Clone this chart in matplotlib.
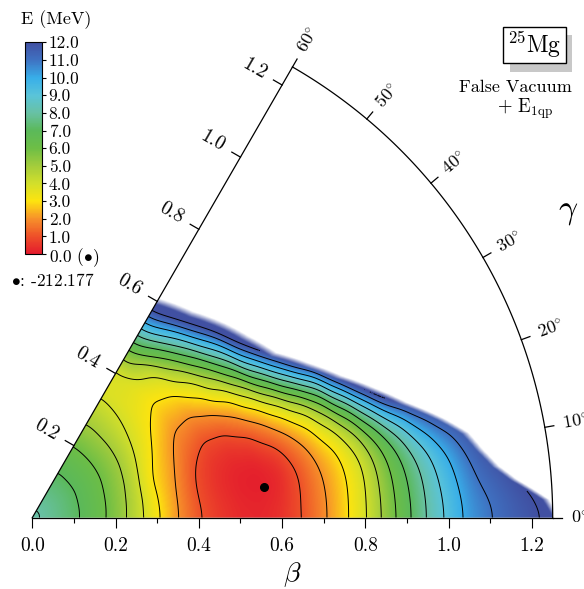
import numpy as np
import matplotlib
matplotlib.use("Agg")
import matplotlib.pyplot as plt
import matplotlib.tri as mtri
from matplotlib.colors import LinearSegmentedColormap, Normalize
from matplotlib.patches import Wedge, Rectangle
from matplotlib.cm import ScalarMappable

plt.rcParams['font.family'] = 'serif'
plt.rcParams['font.serif'] = ['cmr10']
plt.rcParams['mathtext.fontset'] = 'cm'
plt.rcParams['axes.unicode_minus'] = False

# beta grid and gamma rays (deg) on which the surface was read
beta_nodes = [0.0, 0.05, 0.1, 0.15, 0.2, 0.25, 0.3, 0.35, 0.4, 0.45, 0.5, 0.55, 0.6,
              0.65, 0.7, 0.75, 0.8, 0.85, 0.9, 0.95, 1.0, 1.05, 1.1, 1.15, 1.2, 1.25, 1.3]
gamma_rows = [0, 10, 15, 20, 25, 30, 40, 50, 60]

# energy (MeV) relative to the minimum along each gamma ray
# (values past the blank edge only continue the slope of the wall)
e_g0 = [8.15, 7.73, 7.19, 6.48, 5.58, 4.45, 3.16, 2.02, 1.09, 0.60, 0.32, 0.27, 0.50, 1.05,
        1.83, 2.78, 3.91, 5.31, 6.65, 8.02, 9.12, 10.13, 10.63, 11.12, 11.45, 11.75, 12.05]
e_g10 = [8.15, 7.73, 7.20, 6.50, 5.63, 4.52, 3.09, 2.00, 0.95, 0.40, 0.12, 0.02, 0.20, 0.98,
         1.94, 2.76, 3.85, 5.45, 7.00, 8.40, 9.75, 11.00, 12.00, 12.60, 13.20, 13.80, 14.40]
e_g15 = [8.15, 7.73, 7.20, 6.52, 5.66, 4.58, 3.00, 2.10, 1.00, 0.45, 0.22, 0.20, 0.55, 1.50,
         2.45, 3.30, 4.80, 6.64, 8.55, 10.67, 12.00, 12.60, 13.20, 13.80, 14.40, 15.00, 15.60]
e_g20 = [8.15, 7.74, 7.21, 6.54, 5.70, 4.70, 3.08, 2.24, 1.24, 0.60, 0.47, 0.75, 1.62, 2.43,
         3.33, 5.20, 7.25, 10.33, 13.30, 14.20, 15.00, 15.80, 16.60, 17.40, 18.20, 19.00, 19.80]
e_g25 = [8.15, 7.74, 7.22, 6.57, 5.76, 4.77, 3.35, 2.37, 1.55, 1.05, 1.15, 1.85, 2.60, 3.92,
         5.80, 7.90, 12.00, 15.50, 19.00, 22.50, 26.00, 29.50, 33.00, 36.50, 40.00, 43.50, 47.00]
e_g30 = [8.15, 7.75, 7.24, 6.60, 5.82, 4.88, 3.63, 2.62, 1.85, 1.62, 2.03, 2.70, 4.40, 6.75,
         9.67, 12.80, 15.90, 19.00, 22.10, 25.20, 28.30, 31.40, 34.50, 37.60, 40.70, 43.80, 46.90]
e_g40 = [8.15, 7.75, 7.25, 6.63, 5.88, 5.00, 4.00, 3.23, 2.65, 2.85, 3.80, 5.75, 8.33, 12.15,
         15.65, 19.15, 22.65, 26.15, 29.65, 33.15, 36.65, 40.15, 43.65, 47.15, 50.65, 54.15, 57.65]
e_g50 = [8.15, 7.76, 7.26, 6.65, 5.92, 5.05, 4.24, 3.60, 3.45, 4.00, 6.00, 8.60, 11.85, 15.10,
         18.35, 21.60, 24.85, 28.10, 31.35, 34.60, 37.85, 41.10, 44.35, 47.60, 50.85, 54.10, 57.35]
e_g60 = [8.15, 7.76, 7.27, 6.69, 5.96, 5.12, 4.45, 3.75, 3.95, 5.75, 8.17, 11.10, 14.00, 16.90,
         19.80, 22.70, 25.60, 28.50, 31.40, 34.30, 37.20, 40.10, 43.00, 45.90, 48.80, 51.70, 54.60]

# outer edge of the computed region (blank beyond)
edge_gamma = [0, 2, 4.5, 6.3, 8.6, 11, 13.5, 17, 20.5, 24.6, 29, 34, 40, 45, 52, 60]
edge_beta = [1.26, 1.235, 1.16, 1.12, 1.087, 1.06, 1.01, 0.935, 0.875, 0.81, 0.755,
             0.70, 0.67, 0.65, 0.62, 0.60]

min_beta = 0.562
min_gamma = 7.6
min_energy = -212.177

contour_levels = [1, 2, 3, 4, 5, 6, 7, 8, 9, 10, 11]
top_level = 12
cbar_ticks = [0, 1, 2, 3, 4, 5, 6, 7, 8, 9, 10, 11, 12]
cbar_labels = ['0.0 ($\\bullet$)', '1.0', '2.0', '3.0', '4.0', '5.0', '6.0', '7.0', '8.0',
               '9.0', '10.0', '11.0', '12.0']
beta_ticks = [0.0, 0.2, 0.4, 0.6, 0.8, 1.0, 1.2]
beta_minor = [0.1, 0.3, 0.5, 0.7, 0.9, 1.1]
edge_ticks = [0.2, 0.4, 0.6, 0.8, 1.0, 1.2]
gamma_ticks = [0, 10, 20, 30, 40, 50, 60]

colors = ['#e41b2d', '#ee5129', '#f7922a', '#fde40f', '#d2df2b', '#a3cc3c', '#6dbe46',
          '#5bb95a', '#68c1a4', '#5ac4d9', '#38aee9', '#3f72c2', '#4150a2']
cmap = LinearSegmentedColormap.from_list('pes', colors)
norm = Normalize(0, 12)

BMAX = 1.25

# surface, mirrored at 0 and 60 deg (symmetry of the beta-gamma plane)
rows = [e_g10, e_g0, e_g10, e_g15, e_g20, e_g25, e_g30, e_g40, e_g50, e_g60, e_g50]
row_gamma = [-10] + gamma_rows + [70]
B, G = np.meshgrid(beta_nodes, row_gamma)
nb = len(beta_nodes)
triangles = []
for j in range(len(row_gamma) - 1):
    for i in range(nb - 1):
        a = j * nb + i
        triangles += [[a, a + 1, a + nb + 1], [a, a + nb + 1, a + nb]]
tri = mtri.Triangulation(B.ravel(), G.ravel() * 0.005, triangles)
surf = mtri.LinearTriInterpolator(tri, np.array(rows).ravel())

# evaluate on a fine (beta, gamma) mesh and smooth it
db, dg = 0.0025, 0.25
pb = np.arange(0, 1.3 + db / 2, db)
pg = np.arange(-10, 70 + dg / 2, dg)
PB, PG = np.meshgrid(pb, pg)
P = np.ma.filled(surf(PB, PG * 0.005), 30.0)


def smooth(a, sigma, axis):
    k = np.arange(-3 * sigma, 3 * sigma + 1)
    k = np.exp(-0.5 * (k / sigma) ** 2)
    k /= k.sum()
    n = len(k) // 2
    pad = [(0, 0), (0, 0)]
    pad[axis] = (n, n)
    a = np.pad(a, pad, mode='edge')
    return np.apply_along_axis(lambda v: np.convolve(v, k, mode='valid'), axis, a)


P = smooth(P, 12, 0)
P = smooth(P, 5, 1)

fig = plt.figure(figsize=(5.84, 5.89), dpi=100)
ax = fig.add_axes([32.3 / 584, 71.3 / 589, 520.4 / 584, 458 / 589])

xs = np.linspace(0, BMAX, 626)
ys = np.linspace(0, 1.1, 551)
X, Y = np.meshgrid(xs, ys)
bb = np.hypot(X, Y)
gg = np.degrees(np.arctan2(Y, X))

# bilinear lookup of the smoothed mesh
fi = np.clip(bb / db, 0, len(pb) - 1.001)
fj = np.clip((gg + 10) / dg, 0, len(pg) - 1.001)
i0, j0 = fi.astype(int), fj.astype(int)
wi, wj = fi - i0, fj - j0
Z = (P[j0, i0] * (1 - wi) * (1 - wj) + P[j0, i0 + 1] * wi * (1 - wj)
     + P[j0 + 1, i0] * (1 - wi) * wj + P[j0 + 1, i0 + 1] * wi * wj)

bmax = np.interp(gg, edge_gamma, edge_beta)
rgba = cmap(norm(np.clip(Z, 0, 12)))
rgba[..., 3] = np.clip(0.5 + (bmax - bb) / 0.016, 0, 1)

wedge = Wedge((0, 0), BMAX, 0, 60, transform=ax.transData)
im = ax.imshow(rgba, origin='lower', extent=(0, BMAX, 0, 1.1), interpolation='bilinear',
               aspect='auto', zorder=1)
im.set_clip_path(wedge)

cs = ax.contour(X, Y, np.ma.masked_where(bb > bmax, Z), levels=contour_levels,
                colors='k', linewidths=0.7, zorder=2)
cs.set_clip_path(wedge)
cs12 = ax.contour(X, Y, np.ma.masked_where(bb > bmax - 0.01, Z), levels=[top_level],
                  colors='k', linewidths=0.7, zorder=2)
cs12.set_clip_path(wedge)

g0 = np.radians(min_gamma)
ax.plot(min_beta * np.cos(g0), min_beta * np.sin(g0), 'o', color='k', ms=5.5, zorder=5)

# wedge outline
c60, s60 = np.cos(np.radians(60)), np.sin(np.radians(60))
lw = 0.9
ax.plot([0, BMAX], [0, 0], color='k', lw=lw, clip_on=False, zorder=4)
ax.plot([0, BMAX * c60], [0, BMAX * s60], color='k', lw=lw, clip_on=False, zorder=4)
t = np.radians(np.linspace(0, 60, 121))
ax.plot(BMAX * np.cos(t), BMAX * np.sin(t), color='k', lw=lw, clip_on=False, zorder=4)

# ticks on the 60 deg edge
nx, ny = np.cos(np.radians(150)), np.sin(np.radians(150))
for b in edge_ticks:
    px, py = b * c60, b * s60
    ax.plot([px, px + 0.024 * nx], [py, py + 0.024 * ny], color='k', lw=lw, clip_on=False)
    ax.text(px + 0.077 * nx, py + 0.077 * ny, f'{b:.1f}', rotation=-30, ha='center',
            va='center', fontsize=14, rotation_mode='anchor')

# gamma ticks on the arc
for g in gamma_ticks:
    cg, sg = np.cos(np.radians(g)), np.sin(np.radians(g))
    ax.plot([BMAX * cg, 1.272 * cg], [BMAX * sg, 1.272 * sg], color='k', lw=lw, clip_on=False)
    ax.text(1.293 * cg, 1.293 * sg, r'$%d^{\circ}$' % g, rotation=g, rotation_mode='anchor',
            ha='left', va='center', fontsize=13, clip_on=False)

ax.set_xticks(beta_ticks)
ax.set_xticklabels([f'{b:.1f}' for b in beta_ticks])
ax.set_xticks(beta_minor, minor=True)
ax.tick_params(axis='x', which='major', direction='out', length=7, width=0.8,
               labelsize=14, pad=7)
ax.tick_params(axis='x', which='minor', direction='out', length=3.5, width=0.8)
ax.set_yticks([])
for s in ax.spines.values():
    s.set_visible(False)
ax.set_xlim(0, BMAX)
ax.set_ylim(0, 1.1)

ax.text(1.286, 0.734, r'$\gamma$', fontsize=24, ha='center', va='center', clip_on=False)
ax.text(0.624, -0.137, r'$\beta$', fontsize=20, ha='center', va='center', clip_on=False)

# colour bar
cax = fig.add_axes([25 / 584, 1 - 254 / 589, 16.7 / 584, 211.7 / 589])
cb = fig.colorbar(ScalarMappable(norm=norm, cmap=cmap), cax=cax, ticks=cbar_ticks)
cb.set_ticklabels(cbar_labels)
cax.tick_params(direction='out', length=3, width=0.8, labelsize=12.5, pad=2)
cb.outline.set_linewidth(0.8)
fig.text(55.7 / 584, 1 - 19.3 / 589, 'E (MeV)', ha='center', va='center', fontsize=13)
fig.text(11 / 584, 1 - 281 / 589, r'$\bullet$: ' + f'{min_energy:.3f}', ha='left',
         va='center', fontsize=12.5)

# nucleus label box with shadow
bw, bh = 62.4 / 584, 36.6 / 589
fig.add_artist(Rectangle((510 / 584, 1 - 71.7 / 589), bw, bh, transform=fig.transFigure,
                         fc='#c8c8c8', ec='none', zorder=1))
fig.add_artist(Rectangle((503.3 / 584, 1 - 63.3 / 589), bw, bh, transform=fig.transFigure,
                         fc='white', ec='k', lw=1, zorder=2))
fig.text(534.5 / 584, 1 - 45 / 589, r'$^{25}\mathrm{Mg}$', fontsize=17, ha='center',
         va='center', zorder=5)
fig.text(515.8 / 584, 1 - 87.3 / 589, 'False Vacuum', ha='center', va='center', fontsize=13)
fig.text(525 / 584, 1 - 109 / 589, r'$+\ \mathrm{E}_{\mathrm{1qp}}$', ha='center',
         va='center', fontsize=13.5)

fig.savefig('out.png', dpi=100)
